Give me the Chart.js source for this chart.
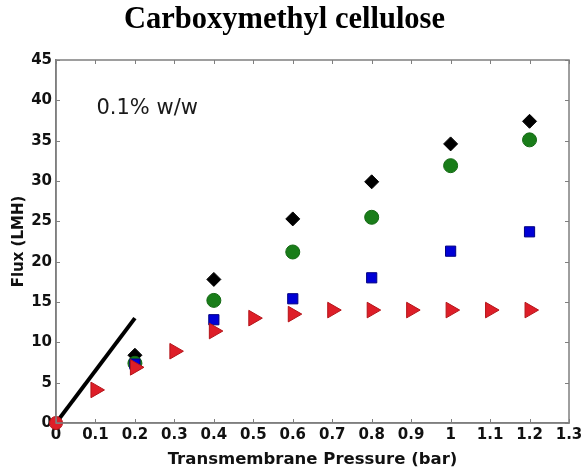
<!DOCTYPE html>
<html>
<head>
<meta charset="utf-8">
<script src="https://cdn.jsdelivr.net/npm/chart.js@4.4.1/dist/chart.umd.min.js"></script>
<style>
  body { margin: 0; background: #fff; }
  canvas { display: block; }
</style>
</head>
<body>
<canvas id="fluxChart" width="586" height="475"></canvas>
<script>
// transmembrane pressure (bar) and flux (LMH)
const pressureFull = [0, 0.1, 0.2, 0.3, 0.4, 0.5, 0.6, 0.7, 0.8, 0.9, 1.0, 1.1, 1.2];
const fluxRed = [0, 4.1, 6.9, 8.9, 11.4, 13.0, 13.5, 14.0, 14.0, 14.0, 14.0, 14.0, 14.0];

const pressure = [0.2, 0.4, 0.6, 0.8, 1.0, 1.2];
const fluxBlack = [8.4, 17.8, 25.3, 29.9, 34.6, 37.4];
const fluxGreen = [7.4, 15.2, 21.2, 25.5, 31.9, 35.1];
const fluxBlue = [7.3, 12.8, 15.4, 18.0, 21.3, 23.7];

// pure water reference line
const lineX = [0, 0.2];
const lineY = [0, 13];

const xTicks = [0, 0.1, 0.2, 0.3, 0.4, 0.5, 0.6, 0.7, 0.8, 0.9, 1, 1.1, 1.2, 1.3];
const xTickLabels = ['0', '0.1', '0.2', '0.3', '0.4', '0.5', '0.6', '0.7', '0.8', '0.9', '1', '1.1', '1.2', '1.3'];
const yTicks = [0, 5, 10, 15, 20, 25, 30, 35, 40, 45];
const yTickLabels = ['0', '5', '10', '15', '20', '25', '30', '35', '40', '45'];

function pts(xs, ys) {
  return xs.map((v, i) => ({ x: v, y: ys[i] }));
}

const frameColor = '#7f7f7f';
const tickFont = { family: 'DejaVu Sans', weight: 'bold', size: 15 };

// box round the plot with tick marks pointing inwards, plus the label
const frame = {
  id: 'frame',
  afterDraw(chart) {
    const { ctx, chartArea: { left, right, top, bottom }, scales: { x, y } } = chart;
    ctx.save();
    ctx.strokeStyle = frameColor;
    ctx.lineWidth = 1.5;
    ctx.strokeRect(left, top, right - left, bottom - top);
    ctx.lineWidth = 1;
    ctx.beginPath();
    x.ticks.forEach(t => {
      const px = Math.round(x.getPixelForValue(t.value)) + 0.5;
      ctx.moveTo(px, bottom); ctx.lineTo(px, bottom - 4);
      ctx.moveTo(px, top); ctx.lineTo(px, top + 4);
    });
    y.ticks.forEach(t => {
      const py = Math.round(y.getPixelForValue(t.value)) + 0.5;
      ctx.moveTo(left, py); ctx.lineTo(left + 4, py);
      ctx.moveTo(right, py); ctx.lineTo(right - 4, py);
    });
    ctx.stroke();

    ctx.fillStyle = '#1a1a1a';
    ctx.font = '21px "DejaVu Sans"';
    ctx.textBaseline = 'middle';
    ctx.textAlign = 'left';
    ctx.fillText('0.1% w/w', x.getPixelForValue(0.1) + 1, y.getPixelForValue(39.0));
    ctx.restore();
  }
};

new Chart(document.getElementById('fluxChart'), {
  type: 'scatter',
  data: {
    datasets: [
      {
        data: pts(pressureFull, fluxRed),
        backgroundColor: 'rgb(222, 30, 40)',
        borderColor: 'rgb(180, 20, 25)',
        borderWidth: 1,
        pointStyle: pressureFull.map((v, i) => i === 0 ? 'circle' : 'triangle'),
        pointRotation: 90,
        pointRadius: pressureFull.map((v, i) => i === 0 ? 6.5 : 9),
        clip: false,
        order: 0
      },
      {
        data: pts(lineX, lineY),
        showLine: true,
        borderColor: '#000',
        borderWidth: 4,
        pointRadius: 0,
        order: 1
      },
      {
        data: pts(pressure, fluxBlue),
        backgroundColor: 'rgb(0, 0, 215)',
        borderColor: 'rgb(0, 0, 130)',
        borderWidth: 1,
        pointStyle: 'rect',
        pointRadius: 7.2,
        order: 2
      },
      {
        data: pts(pressure, fluxGreen),
        backgroundColor: 'rgb(25, 125, 25)',
        borderColor: 'rgb(20, 105, 20)',
        borderWidth: 1,
        pointStyle: 'circle',
        pointRadius: 7,
        order: 3
      },
      {
        data: pts(pressure, fluxBlack),
        backgroundColor: '#000',
        borderColor: '#000',
        borderWidth: 1,
        pointStyle: 'rectRot',
        pointRadius: 7,
        order: 4
      }
    ]
  },
  options: {
    responsive: false,
    animation: false,
    layout: { padding: { left: 0, right: 17, top: 0, bottom: 0 } },
    scales: {
      x: {
        type: 'linear',
        min: 0,
        max: 1.3,
        afterBuildTicks: s => { s.ticks = xTicks.map(v => ({ value: v })); },
        afterFit: s => { s.height = 52; },
        ticks: {
          callback: (v, i) => xTickLabels[i],
          color: '#111',
          font: tickFont,
          padding: 3,
          maxRotation: 0,
          autoSkip: false
        },
        grid: { display: false, drawTicks: false },
        border: { display: true, color: frameColor, width: 1.5 },
        title: {
          display: true,
          text: 'Transmembrane Pressure (bar)',
          color: '#111',
          font: { family: 'DejaVu Sans', weight: 'bold', size: 16.5 },
          padding: { top: 0, bottom: 5 }
        }
      },
      y: {
        min: 0,
        max: 45,
        afterBuildTicks: s => { s.ticks = yTicks.map(v => ({ value: v })); },
        afterFit: s => { s.width = 56; },
        ticks: {
          callback: (v, i) => yTickLabels[i],
          color: '#111',
          font: tickFont,
          padding: 4,
          autoSkip: false
        },
        grid: { display: false, drawTicks: false },
        border: { display: true, color: frameColor, width: 1.5 },
        title: {
          display: true,
          text: 'Flux (LMH)',
          color: '#111',
          font: { family: 'DejaVu Sans', weight: 'bold', size: 15 },
          padding: { top: 10, bottom: 0 }
        }
      }
    },
    plugins: {
      legend: { display: false },
      tooltip: { enabled: false },
      title: {
        display: true,
        text: 'Carboxymethyl cellulose',
        color: '#000',
        font: { family: 'Liberation Serif', weight: 'bold', size: 30.5 },
        padding: { top: 2, bottom: 21.4 }
      }
    }
  },
  plugins: [frame]
});
</script>
</body>
</html>
